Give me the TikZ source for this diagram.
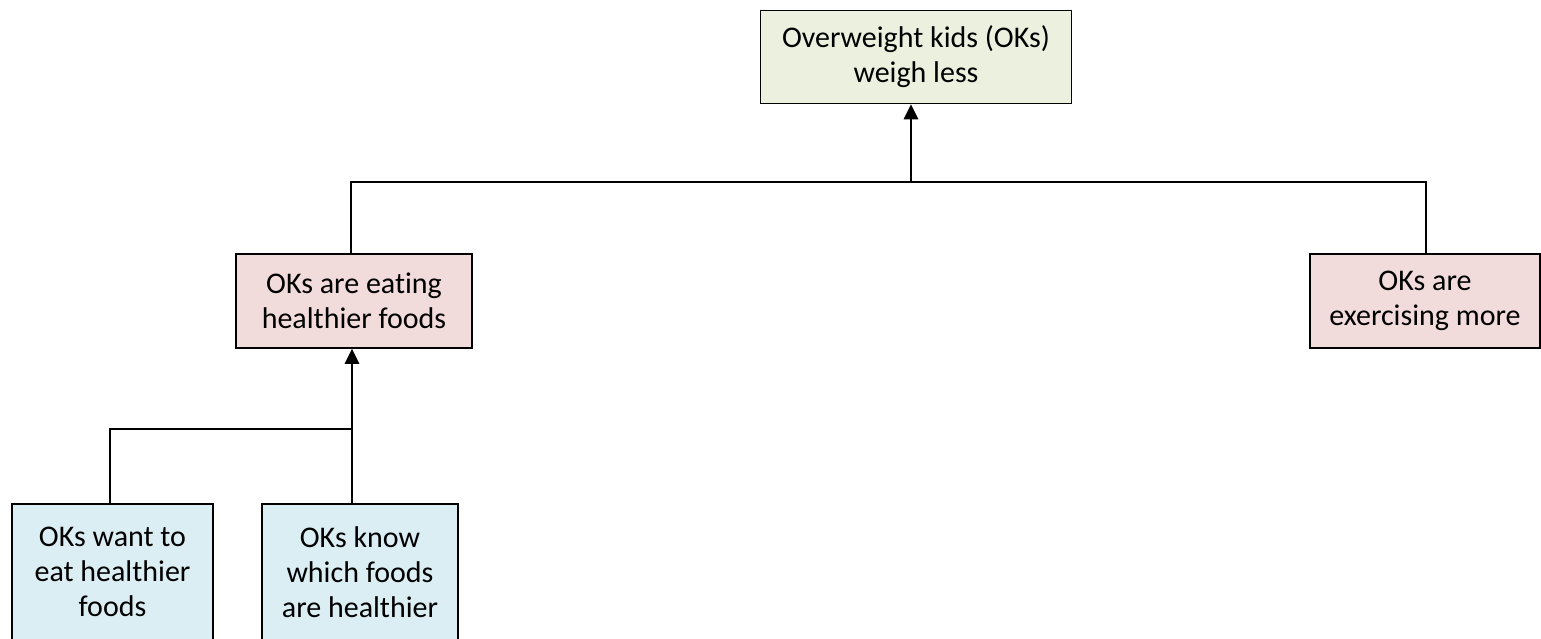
\documentclass[tikz,border=0pt]{standalone}
\usepackage{fontspec}
\setmainfont[Ligatures=NoCommon]{Carlito}
\usetikzlibrary{arrows.meta}
\definecolor{goalfill}{HTML}{EBF1DE}
\definecolor{midfill}{HTML}{F2DCDB}
\definecolor{lowfill}{HTML}{DBEEF4}
\begin{document}
\begin{tikzpicture}[x=1pt,y=1pt,
  box/.style={draw=black,line width=1.6pt,inner sep=0pt,align=center,
    font=\fontsize{30}{35}\selectfont},
  link/.style={draw=black,line width=1.6pt},
  cause/.style={draw=black,line width=2.8pt,
    -{Triangle[length=15pt,width=14pt]}}]
\useasboundingbox (0,0) rectangle (1541,639);
\clip (0,0) rectangle (1541,639);
\fill[white] (0,0) rectangle (1541,639);
% outcome boxes
\node[box,fill=goalfill,minimum width=311pt,minimum height=93pt] (goal) at (916,582)
  {Overweight kids (OKs)\\weigh less};
\node[box,fill=midfill,minimum width=236pt,minimum height=94pt] (eat) at (354,338)
  {OKs are eating\\healthier foods};
\node[box,fill=midfill,minimum width=230pt,minimum height=94pt] (move) at (1425,338)
  {OKs are\\exercising more};
\node[box,fill=lowfill,minimum width=201pt,minimum height=136pt] (want) at (112.5,67)
  {OKs want to\\eat healthier\\foods};
\node[box,fill=lowfill,minimum width=196pt,minimum height=136pt] (know) at (360,67)
  {OKs know\\which foods\\are healthier};
% junction points
\coordinate (j1) at (911,457);
\coordinate (j2) at (352,210);
% upper tree
\draw[link] (eat.north -| 351,0) -- (351,457) -- (1426,457) -- (move.north -| 1426,0);
\draw[cause] (j1) -- (goal.south -| j1);
% lower tree
\draw[link] (want.north -| 110,0) -- (110,210) -- (j2);
\draw[cause] (know.north -| j2) -- (eat.south -| j2);
\end{tikzpicture}
\end{document}
